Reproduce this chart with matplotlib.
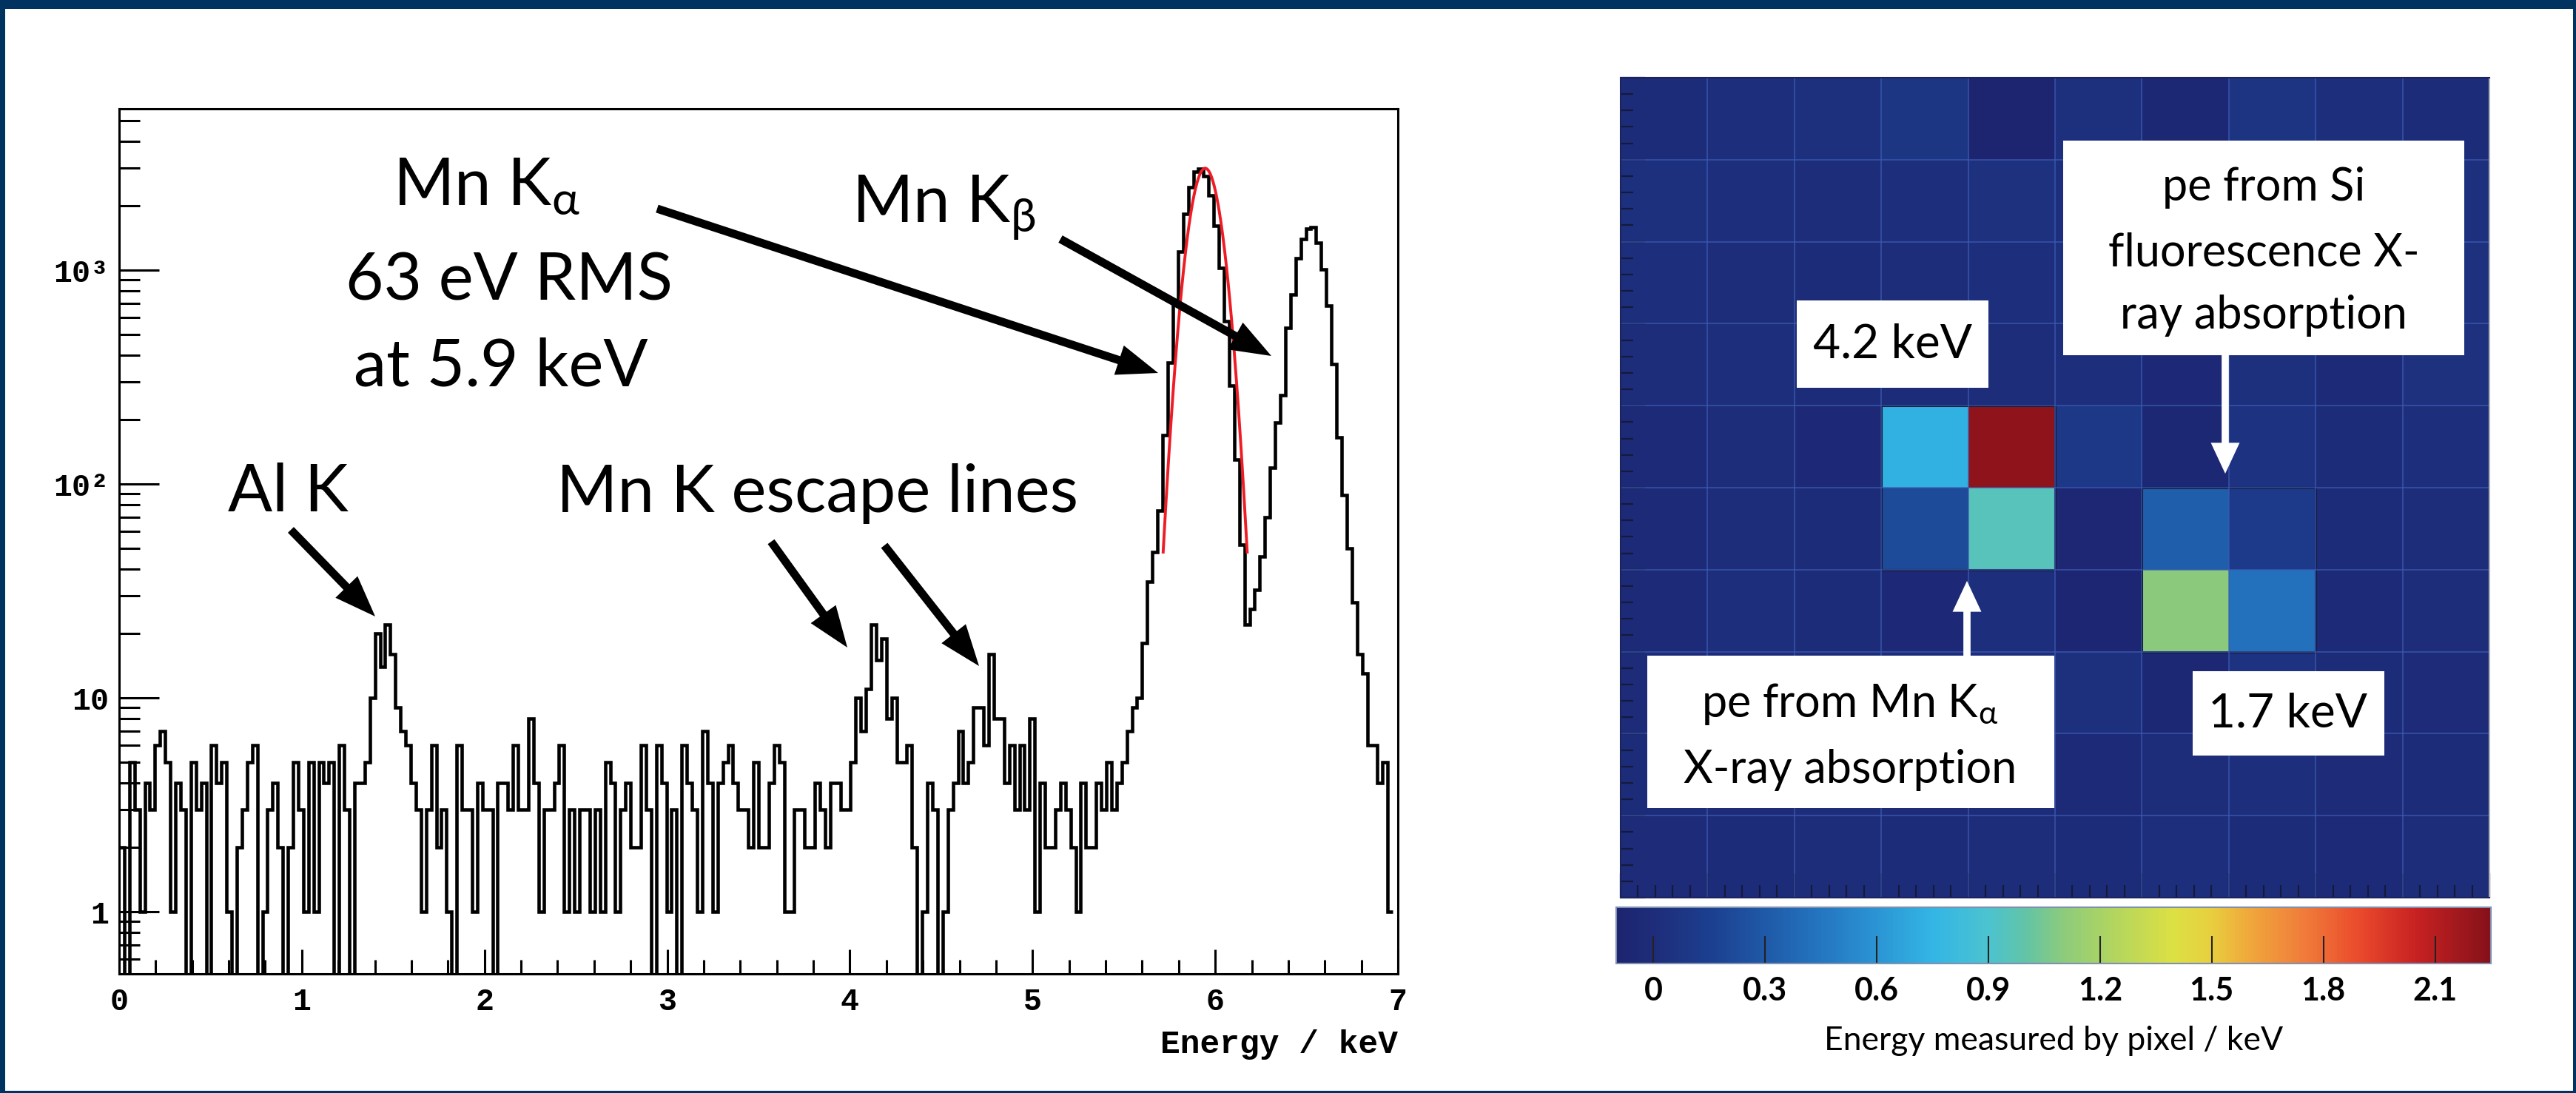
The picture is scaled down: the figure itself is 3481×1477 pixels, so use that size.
import numpy as np
import matplotlib
matplotlib.use("Agg")
import matplotlib.pyplot as plt
from matplotlib.colors import LinearSegmentedColormap
from matplotlib.patches import Rectangle, FancyArrowPatch
from matplotlib.ticker import FixedLocator, LogLocator, NullFormatter, MultipleLocator

W, H = 3481, 1477

plt.rcParams['font.family'] = ['Lato', 'DejaVu Sans']
plt.rcParams['mathtext.fontset'] = 'custom'
plt.rcParams['mathtext.rm'] = 'Lato'
plt.rcParams['mathtext.it'] = 'Lato'
plt.rcParams['mathtext.bf'] = 'Lato:bold'

# ---- spectrum data (counts per 28 eV bin, 0 - 7 keV) ----
bin_width = 0.028
counts = [
    2, 0, 5, 3, 1, 4, 3, 6, 7, 5, 1, 4, 3, 0, 5, 3, 4, 0, 6, 4,
    5, 1, 0, 2, 3, 5, 6, 0, 1, 3, 4, 2, 0, 2, 5, 3, 1, 5, 1, 5,
    4, 5, 0, 6, 3, 0, 4, 4, 5, 10, 20, 14, 22, 16, 9, 7, 6, 4, 3, 1,
    3, 6, 2, 3, 1, 0, 6, 3, 3, 1, 4, 3, 3, 0, 4,
    4, 3, 6, 3, 3, 8, 4, 1, 3, 3, 4, 6, 1, 3, 1, 3, 3, 1, 3, 1,
    5, 4, 1, 3, 4, 2, 2, 6, 3, 0, 6, 4, 1, 3, 0, 6, 4, 3, 1, 7,
    4, 1, 4, 5, 6, 4, 3, 3, 2, 5, 2, 2, 4, 6, 5, 1, 1, 3, 3, 2,
    2, 4, 3, 2, 4, 4, 3, 3, 5, 10, 7, 11, 22, 15, 19,
    8, 10, 5, 5, 6, 2, 0, 1, 4, 3, 0, 1, 3, 4, 7, 4, 5, 9, 9, 6,
    16, 8, 8, 4, 6, 3, 6, 3, 8, 1, 4, 2, 2, 3, 4, 3, 2, 1, 4, 2,
    2, 4, 3, 5, 3, 4, 5, 7, 9, 10, 18, 35, 48,
    75, 170, 370, 720, 1220, 1840, 2440, 2880, 2990, 2750, 2240, 1610, 1030, 580, 290, 130, 52,
    22, 26, 32, 46, 70, 119, 194, 260, 537, 769, 1135, 1397, 1570, 1590, 1350, 1007, 682, 363, 166, 89,
    50, 28, 16, 13, 6, 6, 4, 5, 1,
]

# Gaussian fit of the Mn K-alpha line (parameters)
fit_amp = 3000
fit_mean = 5.945
fit_sigma = 0.080
fit_range = (5.715, 6.175)

y_ticks = [1, 10, 100, 1000]
y_ticklabels = ['1', '10', '10²', '10³']

# ---- pixel map data (keV per pixel, 10 x 10) ----
pixel_energy = np.array([
    [0.00, 0.02, 0.03, 0.08, -0.08, 0.03, -0.04, 0.07, 0.02, 0.00],
    [0.03, 0.02, 0.01, 0.02, 0.04, 0.02, 0.00, 0.02, 0.01, 0.03],
    [0.02, 0.01, 0.00, 0.01, 0.02, 0.03, 0.01, 0.00, 0.02, 0.04],
    [0.01, 0.02, 0.00, 0.00, 0.01, 0.02, -0.03, 0.03, -0.02, 0.04],
    [-0.02, 0.01, -0.03, 0.73, 2.22, 0.10, -0.05, 0.05, 0.00, 0.02],
    [-0.02, 0.01, 0.00, 0.22, 0.95, -0.06, 0.33, 0.12, 0.00, 0.01],
    [-0.02, 0.02, 0.00, -0.03, 0.02, -0.07, 1.10, 0.43, -0.02, 0.01],
    [-0.01, 0.00, 0.01, 0.00, 0.02, 0.03, -0.04, 0.05, 0.00, -0.01],
    [0.00, -0.01, 0.01, -0.01, 0.00, -0.02, 0.01, 0.02, -0.01, 0.00],
    [-0.01, 0.00, 0.01, 0.00, 0.01, 0.00, 0.02, 0.00, -0.02, 0.01],
])
cluster_mn = [(4, 3), (4, 4), (5, 3), (5, 4)]
cluster_si = [(5, 6), (5, 7), (6, 6), (6, 7)]
cbar_ticks = [0, 0.3, 0.6, 0.9, 1.2, 1.5, 1.8, 2.1]
cbar_ticklabels = ['0', '0.3', '0.6', '0.9', '1.2', '1.5', '1.8', '2.1']
e_min, e_max = -0.1, 2.25

palette = [
    (-0.10, '#1d2470'), (0.00, '#1e2d7a'), (0.15, '#1c3f8f'), (0.30, '#1f5aa8'),
    (0.45, '#2476c0'), (0.60, '#2b95d4'), (0.75, '#33b5e5'), (0.90, '#4cc3d0'),
    (1.00, '#62c4a6'), (1.10, '#8ccb7c'), (1.25, '#b5d65c'), (1.40, '#dde043'),
    (1.50, '#e8cf3e'), (1.60, '#f0a83c'), (1.75, '#f07c3a'), (1.90, '#ea4a2c'),
    (2.05, '#c82222'), (2.25, '#86111a'),
]
cmap = LinearSegmentedColormap.from_list(
    'root_like', [((v - e_min) / (e_max - e_min), c) for v, c in palette])

fig = plt.figure(figsize=(W / 100, H / 100), dpi=100)
fig.patch.set_facecolor('white')


def px_axes(x0, y0, x1, y1):
    return fig.add_axes([x0 / W, 1 - y1 / H, (x1 - x0) / W, (y1 - y0) / H])


def fxy(x, y):
    return (x / W, 1 - y / H)


def arrow(p0, p1, color, tail, head_w, head_l):
    a = FancyArrowPatch(fxy(*p0), fxy(*p1), transform=fig.transFigure,
                        arrowstyle=f'simple,head_length={head_l},head_width={head_w},tail_width={tail}',
                        mutation_scale=1, color=color, lw=0, shrinkA=0, shrinkB=0)
    fig.patches.append(a)


# ---- left: energy spectrum ----
ax = px_axes(161, 147, 1889, 1316)
counts = np.array(counts, dtype=float)
edges = np.arange(len(counts) + 1) * bin_width
ax.stairs(np.where(counts > 0, counts, 0.05), edges, baseline=None, color='black', lw=3.3)

xf = np.linspace(fit_range[0], fit_range[1], 300)
yf = fit_amp * np.exp(-0.5 * ((xf - fit_mean) / fit_sigma) ** 2)
ax.plot(xf, yf, color='#ee1c25', lw=2.8)

ax.set_yscale('log')
ax.set_xlim(0, 7)
ax.set_ylim(0.513, 5690)
ax.yaxis.set_major_locator(FixedLocator(y_ticks))
ax.set_yticklabels(y_ticklabels)
ax.yaxis.set_minor_locator(LogLocator(subs=np.arange(2, 10)))
ax.yaxis.set_minor_formatter(NullFormatter())
ax.xaxis.set_major_locator(MultipleLocator(1))
ax.xaxis.set_minor_locator(MultipleLocator(0.2))
for s in ax.spines.values():
    s.set_linewidth(2.2)
ax.tick_params(which='both', direction='in', top=False, right=False, width=2.2)
ax.tick_params(axis='y', which='major', length=39, pad=10)
ax.tick_params(axis='y', which='minor', length=20)
ax.tick_params(axis='x', which='major', length=24, pad=13)
ax.tick_params(axis='x', which='minor', length=14)
for lab in ax.get_xticklabels() + ax.get_yticklabels():
    lab.set_fontfamily('Liberation Mono')
    lab.set_fontweight('bold')
    lab.set_fontsize(30)
ax.set_xlabel('Energy / keV', loc='right', family='Liberation Mono', weight='bold',
              fontsize=32, labelpad=12)

label_size = 64
fig.text(*fxy(658, 276), r'Mn K$_{\alpha}$', fontsize=label_size, ha='center', va='baseline')
fig.text(*fxy(688, 406), '63 eV RMS', fontsize=label_size, ha='center', va='baseline')
fig.text(*fxy(677, 521), 'at 5.9 keV', fontsize=label_size, ha='center', va='baseline')
fig.text(*fxy(1275, 300), r'Mn K$_{\beta}$', fontsize=label_size, ha='center', va='baseline')
fig.text(*fxy(389, 691), 'Al K', fontsize=label_size, ha='center', va='baseline')
fig.text(*fxy(1105, 692), 'Mn K escape lines', fontsize=label_size, ha='center', va='baseline')

for p0, p1 in [((393, 716), (507, 833)), ((1042, 732), (1145, 875)),
               ((1195, 737), (1323, 900)), ((888, 282), (1565, 504)),
               ((1433, 323), (1718, 481))]:
    arrow(p0, p1, 'black', 8, 30, 40)

# ---- right: pixel map ----
hax = px_axes(2190, 105, 3364, 1213)
im = hax.imshow(pixel_energy, cmap=cmap, vmin=e_min, vmax=e_max,
                extent=(0, 10, 10, 0), aspect='auto', interpolation='nearest')
for k in range(1, 10):
    hax.axvline(k, color='#3d5cb4', lw=1.3, alpha=0.7)
    hax.axhline(k, color='#3d5cb4', lw=1.3, alpha=0.7)
for cl in (cluster_mn, cluster_si):
    rows = [r for r, c in cl]
    cols = [c for r, c in cl]
    hax.add_patch(Rectangle((min(cols), min(rows)), max(cols) - min(cols) + 1,
                            max(rows) - min(rows) + 1, fill=False,
                            ec='#141a3c', lw=2.2))
hax.set_xlim(0, 10)
hax.set_ylim(10, 0)
hax.xaxis.set_major_locator(MultipleLocator(1))
hax.xaxis.set_minor_locator(MultipleLocator(0.2))
hax.yaxis.set_major_locator(MultipleLocator(1))
hax.yaxis.set_minor_locator(MultipleLocator(0.2))
hax.tick_params(which='both', direction='in', labelbottom=False, labelleft=False,
                top=False, right=False, color='#141a3c', width=1.6)
hax.tick_params(which='major', length=24)
hax.tick_params(which='minor', length=12)
for name, s in hax.spines.items():
    s.set_color('#b0b0b8' if name == 'right' else '#1c2460')
    s.set_linewidth(1.5)

cax = px_axes(2184, 1226, 3366, 1302)
cb = fig.colorbar(im, cax=cax, orientation='horizontal')
cb.set_ticks(cbar_ticks)
cb.set_ticklabels(cbar_ticklabels)
cb.outline.set_edgecolor('#8090b0')
cb.outline.set_linewidth(1.5)
cax.tick_params(direction='in', length=27, width=1.5, color='#222222', pad=12)
for lab in cax.get_xticklabels():
    lab.set_fontweight('bold')
    lab.set_fontsize(31)
cb.set_label('Energy measured by pixel / keV', fontsize=32, labelpad=20)

# annotation boxes on the map
box_size = 44
for x0, y0, x1, y1 in [(2428, 406, 2687, 524), (2788, 190, 3330, 480),
                       (2226, 886, 2776, 1092), (2963, 907, 3222, 1021)]:
    fig.patches.append(Rectangle(fxy(x0, y1), (x1 - x0) / W, (y1 - y0) / H,
                                 transform=fig.transFigure, fc='white', ec='none'))
fig.text(*fxy(2557, 465), '4.2 keV', fontsize=46, ha='center', va='center')
fig.text(*fxy(3092, 965), '1.7 keV', fontsize=46, ha='center', va='center')
for txt, yb in [('pe from Si', 271), ('fluorescence X-', 359), ('ray absorption', 444)]:
    fig.text(*fxy(3059, yb), txt, fontsize=box_size, ha='center', va='baseline')
for txt, yb in [(r'pe from Mn K$_{\alpha}$', 969), ('X-ray absorption', 1058)]:
    fig.text(*fxy(2500, yb), txt, fontsize=box_size, ha='center', va='baseline')
arrow((3007, 480), (3007, 640), 'white', 7, 28, 30)
arrow((2658, 886), (2658, 785), 'white', 7, 28, 30)

# navy frame around the slide
navy = '#00335f'
for x0, y0, x1, y1 in [(0, 0, W, 12), (0, 0, 7, H), (0, H - 3, W, H), (W - 4, 0, W, H)]:
    fig.patches.append(Rectangle(fxy(x0, y1), (x1 - x0) / W, (y1 - y0) / H,
                                 transform=fig.transFigure, fc=navy, ec='none'))

fig.savefig('out.png', dpi=100)
